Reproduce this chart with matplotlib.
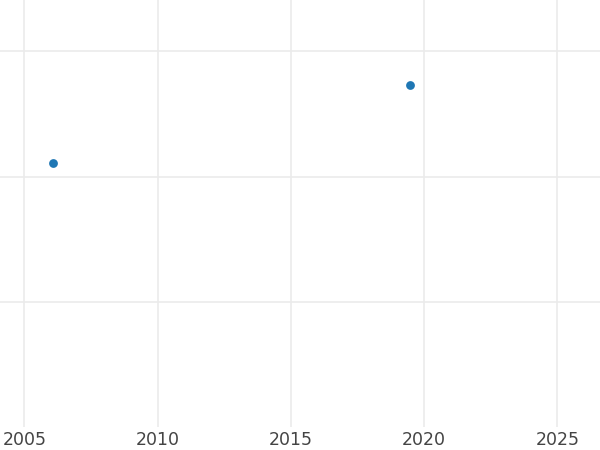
import matplotlib
matplotlib.use('Agg')
import matplotlib.pyplot as plt

# values
years = [2006.09, 2019.49]
values = [2.11, 2.73]
xticks = [2005, 2010, 2015, 2020, 2025]
yticks = [1, 2, 3]

fig = plt.figure(figsize=(6, 4.5), dpi=100)
ax = fig.add_axes([0, 23 / 450, 1, 427 / 450])

ax.scatter(years, values, s=40, color='#1f77b4', zorder=3, linewidths=0)

ax.set_xlim(2004.09, 2026.6)
ax.set_ylim(0, 3.41)
ax.set_xticks(xticks)
ax.set_xticklabels([str(y) for y in xticks])
ax.set_yticks(yticks)
ax.set_yticklabels([])

ax.grid(True, color='#ebebeb', linewidth=1.2)
ax.set_axisbelow(True)
ax.tick_params(length=0, labelsize=12.5, labelcolor='#444444', pad=3)
for s in ax.spines.values():
    s.set_visible(False)

plt.savefig('out.png', dpi=100)
